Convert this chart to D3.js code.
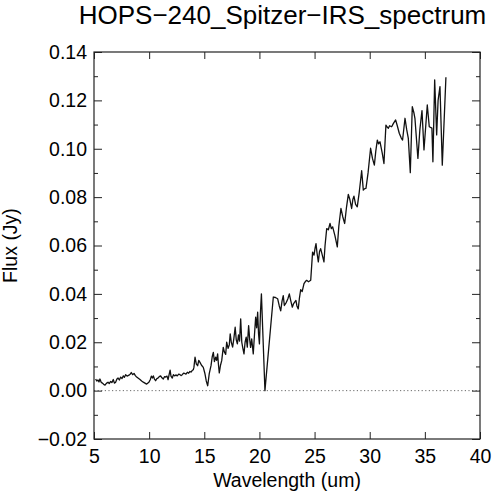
<!DOCTYPE html>
<html>
<head>
<meta charset="utf-8">
<script src="https://cdn.jsdelivr.net/npm/d3@7"></script>
<style>
  body { margin: 0; background: #fff; }
  text { font-family: "Liberation Sans", Arial, Helvetica, sans-serif; fill: #000; }
</style>
</head>
<body>
<div id="chart"></div>
<script>
// spectrum
var wavelength = [
  5.15, 5.25, 5.36, 5.45, 5.54, 5.65, 5.76, 5.88, 6.00, 6.12, 6.27, 6.38, 6.51, 6.62, 6.75, 6.85,
  6.96, 7.08, 7.18, 7.30, 7.42, 7.54, 7.66, 7.76, 7.87, 8.00, 8.17, 8.28, 8.38, 8.50, 8.63, 8.75,
  8.87, 9.02, 9.17, 9.32, 9.47, 9.62, 9.77, 9.88, 9.98, 10.10, 10.20, 10.30, 10.38, 10.48, 10.59, 10.70,
  10.80, 10.92, 11.04, 11.16, 11.28, 11.40, 11.50, 11.62, 11.72, 11.80, 11.90, 11.98, 12.10, 12.20, 12.31, 12.42,
  12.55, 12.68, 12.80, 12.90, 13.00, 13.12, 13.22, 13.34, 13.46, 13.58, 13.70, 13.80, 13.90, 14.00, 14.06, 14.16,
  14.28, 14.40, 14.50, 14.61, 14.75, 14.91, 15.05, 15.18, 15.31, 15.45, 15.61, 15.72, 15.82, 15.92, 16.03, 16.12,
  16.21, 16.28, 16.36, 16.47, 16.58, 16.72, 16.82, 16.94, 17.03, 17.16, 17.27, 17.35, 17.45, 17.57, 17.68, 17.80,
  17.90, 18.00, 18.10, 18.20, 18.30, 18.40, 18.50, 18.60, 18.70, 18.80, 18.90, 19.02, 19.12, 19.20, 19.30, 19.44,
  19.55, 19.66, 19.75, 19.84, 19.92, 20.00, 20.10, 20.18, 20.30, 20.50, 21.26, 21.45, 21.65, 21.80, 21.93, 22.05,
  22.16, 22.26, 22.44, 22.58, 22.71, 22.85, 22.98, 23.10, 23.31, 23.40, 23.52, 23.62, 23.74, 23.88, 24.04, 24.15,
  24.28, 24.45, 24.65, 24.82, 24.95, 25.05, 25.13, 25.22, 25.34, 25.45, 25.55, 25.70, 25.85, 25.95, 26.10, 26.25,
  26.40, 26.52, 26.64, 26.85, 27.06, 27.20, 27.39, 27.55, 27.73, 27.90, 28.06, 28.20, 28.36, 28.47, 28.57, 28.72,
  28.87, 29.05, 29.27, 29.42, 29.55, 29.66, 29.85, 30.08, 30.25, 30.42, 30.55, 30.69, 30.80, 30.93, 31.14, 31.29,
  31.47, 31.58, 31.69, 31.80, 31.99, 32.15, 32.35, 32.50, 32.68, 32.85, 32.98, 33.20, 33.35, 33.50, 33.68, 33.86,
  34.00, 34.10, 34.37, 34.55, 34.74, 34.92, 35.22, 35.40, 35.64, 35.73, 35.89, 36.07, 36.20, 36.37, 36.58, 36.91
];
var flux = [
  .0048, .0040, .0044, .0036, .0048, .0035, .0031, .0026, .0023, .0030, .0035, .0029, .0038, .0033, .0046, .0031,
  .0035, .0048, .0052, .0044, .0056, .0050, .0061, .0055, .0066, .0060, .0064, .0068, .0075, .0066, .0071, .0062,
  .0056, .0051, .0046, .0040, .0035, .0031, .0027, .0031, .0035, .0045, .0060, .0052, .0061, .0048, .0041, .0050,
  .0052, .0058, .0061, .0053, .0048, .0058, .0056, .0060, .0045, .0064, .0085, .0060, .0052, .0066, .0061, .0065,
  .0061, .0068, .0066, .0062, .0066, .0072, .0071, .0068, .0076, .0072, .0079, .0077, .0083, .0086, .0096, .0138,
  .0110, .0103, .0125, .0117, .0105, .0096, .0072, .0040, .0020, .0070, .0103, .0140, .0158, .0120, .0138, .0125,
  .0152, .0110, .0073, .0105, .0124, .0179, .0160, .0150, .0200, .0175, .0190, .0235, .0200, .0180, .0215, .0262,
  .0210, .0193, .0230, .0205, .0297, .0200, .0175, .0152, .0200, .0221, .0180, .0269, .0210, .0179, .0214, .0152,
  .0230, .0304, .0260, .0324, .0235, .0193, .0330, .0400, .0250, .0000, .0387, .0385, .0380, .0350, .0330, .0370,
  .0393, .0352, .0365, .0380, .0400, .0370, .0345, .0360, .0373, .0350, .0338, .0380, .0417, .0410, .0442, .0450,
  .0456, .0450, .0456, .0573, .0560, .0590, .0608, .0570, .0532, .0575, .0587, .0560, .0532, .0600, .0670, .0665,
  .0691, .0670, .0677, .0640, .0594, .0680, .0753, .0720, .0691, .0760, .0811, .0790, .0753, .0790, .0804, .0770,
  .0760, .0820, .0909, .0829, .0835, .0836, .0900, .1002, .0960, .0932, .0990, .1036, .1020, .1029, .0981, .0939,
  .1098, .1090, .1085, .1095, .1091, .1105, .1119, .1095, .1064, .1045, .1036, .1126, .1080, .1043, .0901, .1174,
  .1150, .1126, .0960, .1080, .1158, .0995, .1181, .1091, .1085, .0946, .1285, .1057, .1200, .1257, .0932, .1296
];

var xTicks = [5, 10, 15, 20, 25, 30, 35, 40];
var yTicks = [-0.02, 0, 0.02, 0.04, 0.06, 0.08, 0.10, 0.12, 0.14];
var yMinorTicks = [-0.01, 0.01, 0.03, 0.05, 0.07, 0.09, 0.11, 0.13];
var chartTitle = "HOPS\u2212240_Spitzer\u2212IRS_spectrum";

var margin = {top: 52, right: 20, bottom: 55, left: 94},
    width = 480 - margin.left,
    height = 439 - margin.top;

var x = d3.scaleLinear().domain([5, 40]).range([0, width]);
var y = d3.scaleLinear().domain([-0.02, 0.14]).range([height, 0]);

var svg = d3.select("#chart").append("svg")
    .attr("width", 500)
    .attr("height", 494);

svg.append("text")
    .attr("x", 282.5)
    .attr("y", 24)
    .attr("text-anchor", "middle")
    .style("font-size", "26px")
    .text(chartTitle);

var g = svg.append("g")
    .attr("transform", "translate(" + margin.left + "," + margin.top + ")");

// zero line
g.append("line")
    .attr("x1", 0).attr("x2", width)
    .attr("y1", y(0)).attr("y2", y(0))
    .attr("stroke", "#444")
    .attr("stroke-width", 0.8)
    .attr("stroke-dasharray", "1.2,2.4");

// spectrum
var line = d3.line()
    .x(function(d, i) { return x(wavelength[i]); })
    .y(function(d) { return y(d); });

g.append("path")
    .datum(flux)
    .attr("fill", "none")
    .attr("stroke", "#111")
    .attr("stroke-width", 1.3)
    .attr("stroke-linejoin", "round")
    .attr("d", line);

// axes, ticks pointing inward
function clean(sel) {
  sel.select(".domain").remove();
  sel.selectAll("line").attr("stroke", "#222");
  sel.selectAll("text").style("font-size", "19.5px").attr("fill", "#000")
     .style("font-family", "'Liberation Sans', Arial, sans-serif");
}

g.append("g")
    .attr("transform", "translate(0," + height + ")")
    .call(d3.axisBottom(x).tickValues(xTicks).tickSize(-7).tickPadding(10)
      .tickFormat(d3.format("d")))
    .call(clean);

g.append("g")
    .call(d3.axisTop(x).tickValues(xTicks).tickSize(-7).tickFormat(""))
    .call(clean);

g.append("g")
    .call(d3.axisLeft(y).tickValues(yTicks).tickSize(-8).tickPadding(7)
      .tickFormat(d3.format(".2f")))
    .call(clean);

g.append("g")
    .call(d3.axisLeft(y).tickValues(yMinorTicks).tickSize(-4).tickFormat(""))
    .call(clean);

g.append("g")
    .attr("transform", "translate(" + width + ",0)")
    .call(d3.axisRight(y).tickValues(yTicks).tickSize(-8).tickFormat(""))
    .call(clean);

g.append("g")
    .attr("transform", "translate(" + width + ",0)")
    .call(d3.axisRight(y).tickValues(yMinorTicks).tickSize(-4).tickFormat(""))
    .call(clean);

// frame
g.append("rect")
    .attr("x", 0).attr("y", 0)
    .attr("width", width).attr("height", height)
    .attr("fill", "none")
    .attr("stroke", "#222")
    .attr("stroke-width", 1.2);

svg.append("text")
    .attr("x", margin.left + width / 2)
    .attr("y", 487)
    .attr("text-anchor", "middle")
    .style("font-size", "19.5px")
    .text("Wavelength (um)");

svg.append("text")
    .attr("transform", "translate(17," + (margin.top + height / 2) + ") rotate(-90)")
    .attr("text-anchor", "middle")
    .style("font-size", "19.5px")
    .text("Flux (Jy)");
</script>
</body>
</html>
